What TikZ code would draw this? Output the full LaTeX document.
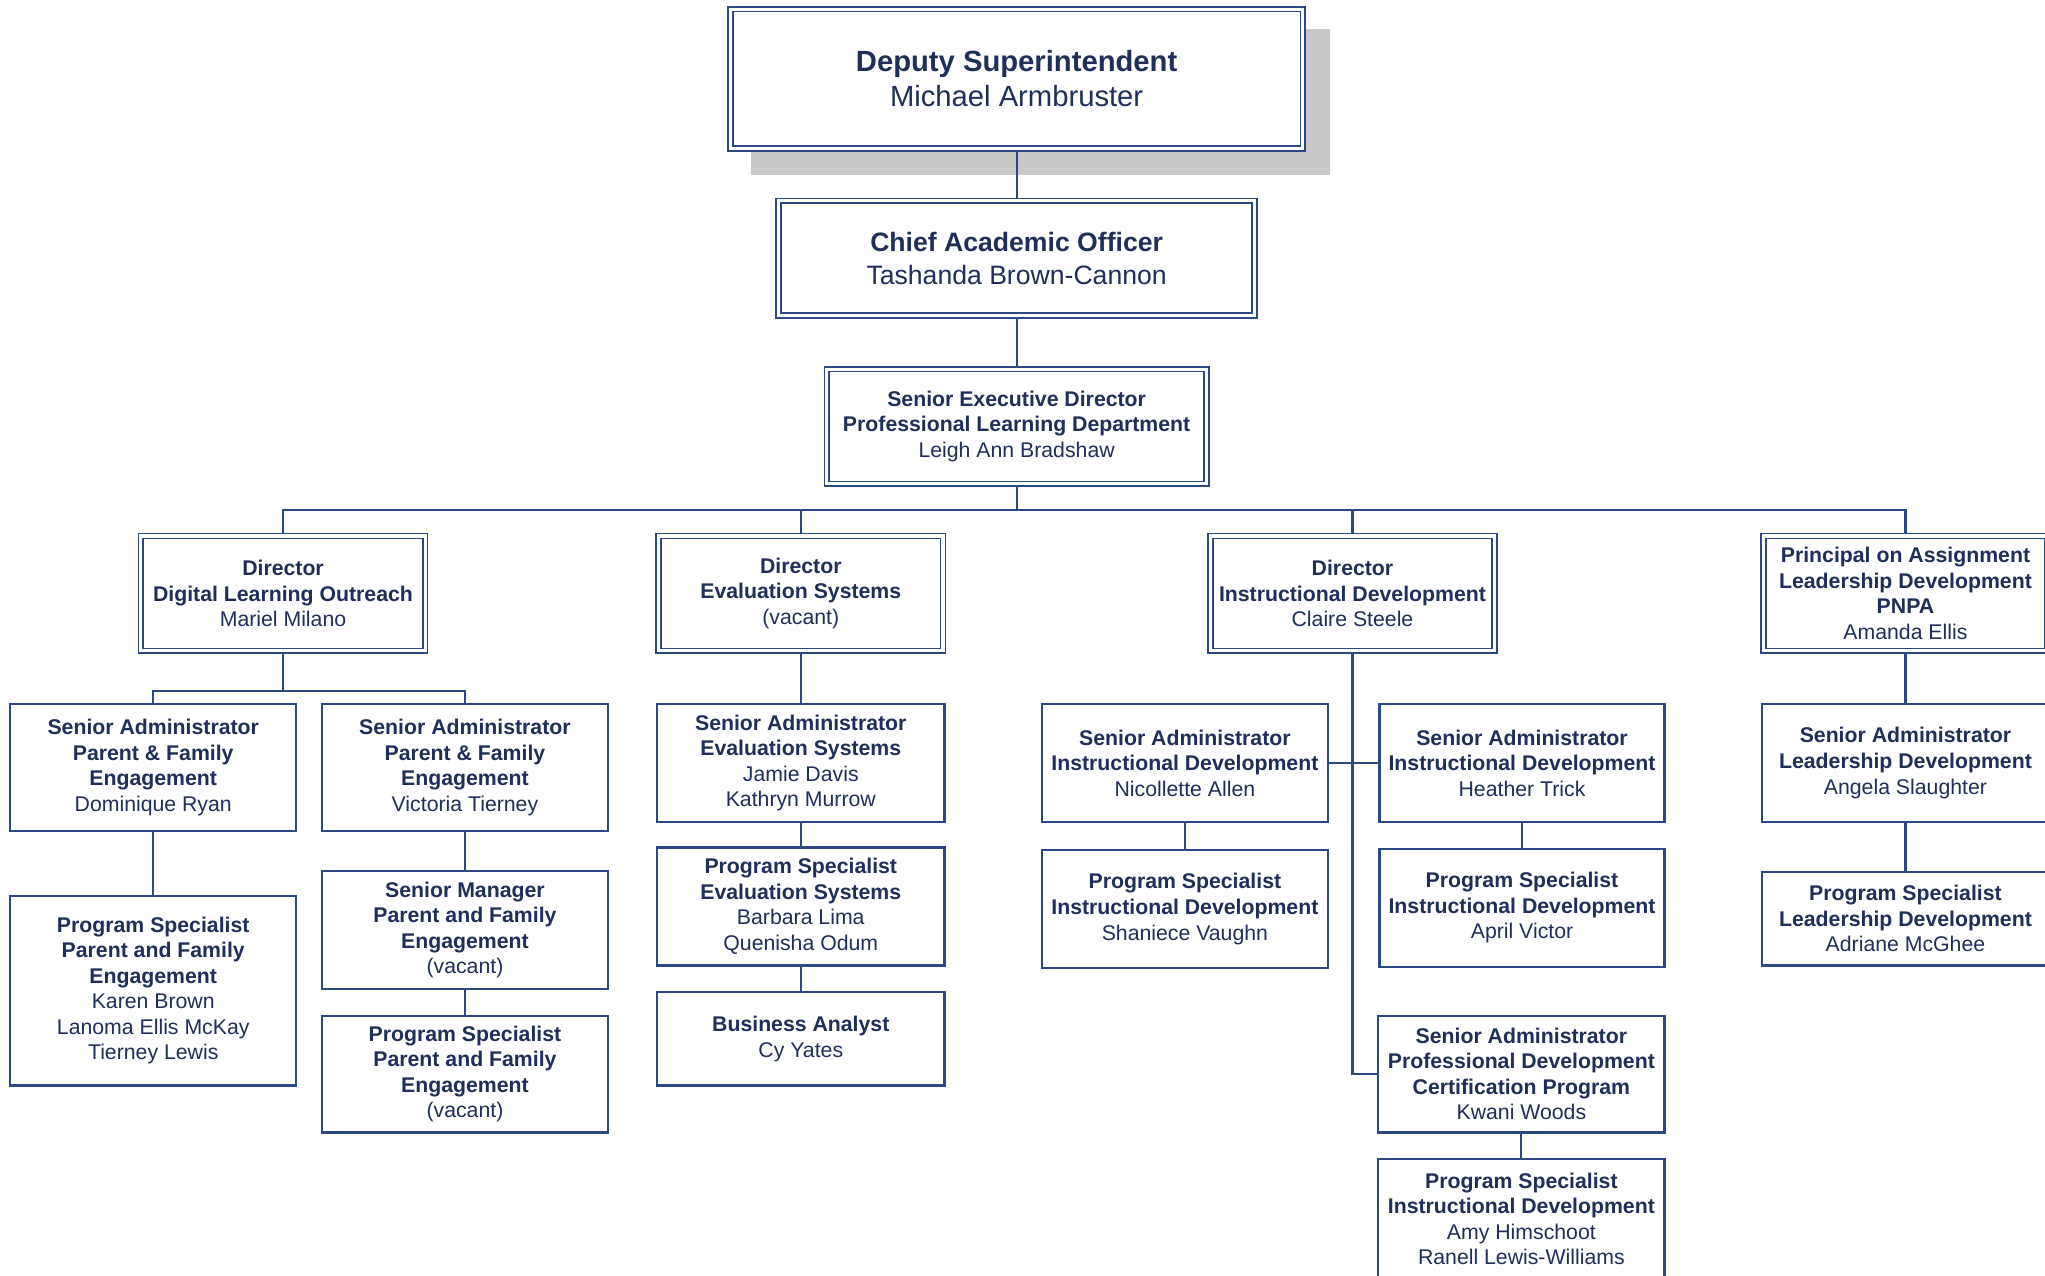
\documentclass[tikz,border=0pt]{standalone}
\usepackage{fontspec}
\setmainfont{Liberation Sans}
\usetikzlibrary{backgrounds}
\definecolor{txt}{HTML}{1F2F5A}
\definecolor{ln}{HTML}{2B4A85}
\definecolor{shadowgray}{HTML}{C9C9C9}
\tikzset{
  box/.style={draw=ln, line width=1.7pt, fill=white, inner sep=0pt, align=center, text=txt,
    font=\fontsize{16.3}{19.6}\selectfont},
  dbox/.style={box, line width=1.3pt, double=white, double distance=2.4pt},
  conn/.style={draw=ln, line width=1.6pt},
}
\begin{document}
\begin{tikzpicture}[x=1pt,y=-1pt]
\useasboundingbox (0,0) rectangle (1568,978);
\clip (0,0) rectangle (1568,978);

% top
\node[dbox, minimum width=439pt, minimum height=107pt, font=\fontsize{22.4}{27}\selectfont] (dep) at (779.5,60.5)
  {\textbf{Deputy Superintendent}\\Michael Armbruster};
\node[dbox, minimum width=365pt, minimum height=88pt, font=\fontsize{20.4}{25}\selectfont] (cao) at (779.5,198)
  {\textbf{Chief Academic Officer}\\Tashanda Brown-Cannon};
\node[dbox, minimum width=291pt, minimum height=88pt] (sed) at (779.5,327)
  {\textbf{Senior Executive Director}\\\textbf{Professional Learning Department}\\Leigh Ann Bradshaw};

% directors
\node[dbox, minimum width=218pt, minimum height=88pt] (d1) at (217,455)
  {\textbf{Director}\\\textbf{Digital Learning Outreach}\\Mariel Milano};
\node[dbox, minimum width=218pt, minimum height=88pt] (d2) at (614,455)
  {\textbf{Director}\\\textbf{Evaluation Systems}\\(vacant)};
\node[dbox, minimum width=218pt, minimum height=88pt] (d3) at (1037,455)
  {\textbf{Director}\\\textbf{Instructional Development}\\Claire Steele};
\node[dbox, minimum width=218pt, minimum height=88pt] (d4) at (1461,455)
  {\textbf{Principal on Assignment}\\\textbf{Leadership Development}\\\textbf{PNPA}\\Amanda Ellis};

% digital learning outreach branch
\node[box, minimum width=219.5pt, minimum height=97.5pt] (s1) at (117.5,588.5)
  {\textbf{Senior Administrator}\\\textbf{Parent \& Family}\\\textbf{Engagement}\\Dominique Ryan};
\node[box, minimum width=219.5pt, minimum height=97.5pt] (s2) at (356.5,588.5)
  {\textbf{Senior Administrator}\\\textbf{Parent \& Family}\\\textbf{Engagement}\\Victoria Tierney};
\node[box, minimum width=219.5pt, minimum height=145.5pt] (p1) at (117.5,759.5)
  {\textbf{Program Specialist}\\\textbf{Parent and Family}\\\textbf{Engagement}\\Karen Brown\\Lanoma Ellis McKay\\Tierney Lewis};
\node[box, minimum width=219.5pt, minimum height=90.5pt] (m2) at (356.5,713)
  {\textbf{Senior Manager}\\\textbf{Parent and Family}\\\textbf{Engagement}\\(vacant)};
\node[box, minimum width=219.5pt, minimum height=89.5pt] (p2) at (356.5,823.5)
  {\textbf{Program Specialist}\\\textbf{Parent and Family}\\\textbf{Engagement}\\(vacant)};

% evaluation systems branch
\node[box, minimum width=220.5pt, minimum height=90.5pt] (e1) at (614,585)
  {\textbf{Senior Administrator}\\\textbf{Evaluation Systems}\\Jamie Davis\\Kathryn Murrow};
\node[box, minimum width=220.5pt, minimum height=90.5pt] (e2) at (614,695)
  {\textbf{Program Specialist}\\\textbf{Evaluation Systems}\\Barbara Lima\\Quenisha Odum};
\node[box, minimum width=220.5pt, minimum height=71.5pt] (e3) at (614,796.5)
  {\textbf{Business Analyst}\\Cy Yates};

% instructional development branch
\node[box, minimum width=219.5pt, minimum height=90.5pt] (i1) at (908.5,585)
  {\textbf{Senior Administrator}\\\textbf{Instructional Development}\\Nicollette Allen};
\node[box, minimum width=219.5pt, minimum height=90.5pt] (i2) at (908.5,697)
  {\textbf{Program Specialist}\\\textbf{Instructional Development}\\Shaniece Vaughn};
\node[box, minimum width=218.5pt, minimum height=90.5pt] (i3) at (1167,585)
  {\textbf{Senior Administrator}\\\textbf{Instructional Development}\\Heather Trick};
\node[box, minimum width=218.5pt, minimum height=90.5pt] (i4) at (1167,696)
  {\textbf{Program Specialist}\\\textbf{Instructional Development}\\April Victor};
\node[box, minimum width=219.5pt, minimum height=89.5pt] (i5) at (1166.5,823.5)
  {\textbf{Senior Administrator}\\\textbf{Professional Development}\\\textbf{Certification Program}\\Kwani Woods};
\node[box, minimum width=219.5pt, minimum height=91.5pt] (i6) at (1166.5,934.5)
  {\textbf{Program Specialist}\\\textbf{Instructional Development}\\Amy Himschoot\\Ranell Lewis-Williams};

% leadership development branch
\node[box, minimum width=220.5pt, minimum height=90.5pt] (l1) at (1461,585)
  {\textbf{Senior Administrator}\\\textbf{Leadership Development}\\Angela Slaughter};
\node[box, minimum width=220.5pt, minimum height=71.5pt] (l2) at (1461,704.5)
  {\textbf{Program Specialist}\\\textbf{Leadership Development}\\Adriane McGhee};

\coordinate (bus) at (779.5,391);
\coordinate (b1) at (217,530);

\begin{pgfonlayer}{background}
\fill[white] (0,0) rectangle (1568,978);
\fill[shadowgray] (576,22) rectangle (1020,134);
\path[conn] (dep.south) -- (cao.north);
\path[conn] (cao.south) -- (sed.north);
\path[conn] (sed.south) -- (bus);
\path[conn] (d1.north) -- (d1.north |- bus) -- (d4.north |- bus) -- (d4.north);
\path[conn] (d2.north) -- (d2.north |- bus);
\path[conn] (d3.north) -- (d3.north |- bus);
% DLO
\path[conn] (d1.south) -- (b1);
\path[conn] (s1.north) -- (s1.north |- b1) -- (s2.north |- b1) -- (s2.north);
\path[conn] (s1.south) -- (p1.north);
\path[conn] (s2.south) -- (m2.north);
\path[conn] (m2.south) -- (p2.north);
% ES
\path[conn] (d2.south) -- (e1.north);
\path[conn] (e1.south) -- (e2.north);
\path[conn] (e2.south) -- (e3.north);
% ID
\path[conn] (d3.south) |- (i5.west);
\path[conn] (i1.east) -- (i3.west);
\path[conn] (i1.south) -- (i2.north);
\path[conn] (i3.south) -- (i4.north);
\path[conn] (i5.south) -- (i6.north);
% LD
\path[conn] (d4.south) -- (l1.north);
\path[conn] (l1.south) -- (l2.north);
\end{pgfonlayer}
\end{tikzpicture}
\end{document}
